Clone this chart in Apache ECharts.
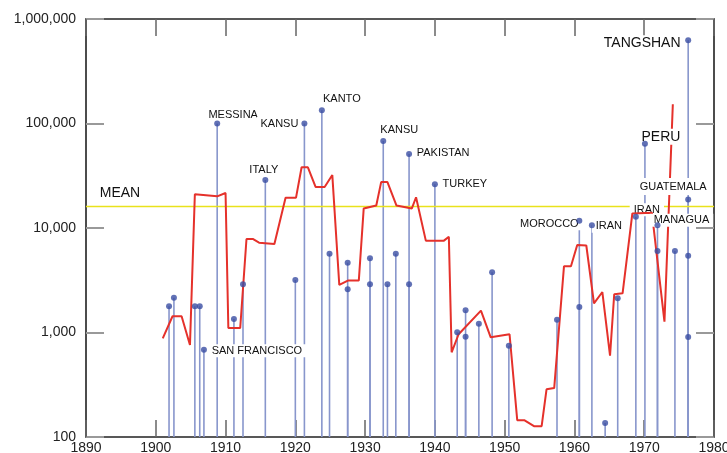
<!DOCTYPE html>
<html><head><meta charset="utf-8">
<script src="https://cdn.jsdelivr.net/npm/echarts@6/dist/echarts.min.js"></script>
<style>html,body{margin:0;padding:0;background:#fff}#c{width:727px;height:453px}</style>
</head><body><div id="c"></div>
<script>
// ---- data ----
const eventYears = [1901.9, 1902.6, 1905.6, 1906.3, 1906.9, 1908.8, 1911.2, 1912.5, 1915.7, 1920.0,
  1921.3, 1923.8, 1924.9, 1927.5, 1927.5, 1930.7, 1930.7, 1932.6, 1933.2, 1934.4,
  1936.3, 1936.3, 1940.0, 1943.2, 1944.4, 1944.4, 1946.3, 1948.2, 1950.6, 1957.5,
  1960.7, 1960.7, 1962.5, 1964.4, 1966.2, 1968.8, 1970.1, 1971.9, 1971.9, 1974.4,
  1976.3, 1976.3, 1976.3, 1976.3];
const eventDeaths = [1780, 2150, 1780, 1780, 684, 100000, 1345, 2890, 28800, 3180,
  100000, 134000, 5680, 4660, 2600, 5130, 2890, 68000, 2890, 5680,
  51000, 2890, 26200, 1005, 1630, 912, 1213, 3770, 748, 1328,
  11750, 1755, 10600, 136, 2125, 12800, 64100, 10600, 6030, 6030,
  625000, 18700, 5430, 906];
const eventNames = ['', '', '', '', 'SAN FRANCISCO', 'MESSINA', '', '', 'ITALY', '',
  'KANSU', 'KANTO', '', '', '', '', '', 'KANSU', '', '',
  'PAKISTAN', '', 'TURKEY', '', '', '', '', '', '', '',
  'MOROCCO', '', 'IRAN', '', '', 'IRAN', 'PERU', 'MANAGUA', '', '',
  'TANGSHAN', 'GUATEMALA', '', ''];
const averageYears = [1901.0, 1902.4, 1903.7, 1904.9, 1905.6, 1908.8, 1910.0, 1910.4, 1912.1, 1913.0,
  1913.9, 1914.8, 1917.0, 1918.6, 1920.1, 1920.9, 1921.8, 1922.9, 1924.2, 1925.3,
  1926.3, 1927.6, 1929.1, 1929.8, 1931.6, 1932.3, 1933.2, 1934.5, 1936.7, 1937.3,
  1938.7, 1941.3, 1942.0, 1942.4, 1943.4, 1946.6, 1948.0, 1950.7, 1951.8, 1952.8,
  1954.2, 1955.3, 1956.0, 1957.1, 1958.5, 1959.5, 1960.4, 1961.7, 1962.8, 1964.0,
  1965.1, 1965.7, 1966.9, 1968.3, 1971.1, 1972.9, 1974.1];
const averageDeaths = [880, 1430, 1430, 759, 21000, 20100, 21600, 1105, 1105, 7850,
  7850, 7240, 7030, 19500, 19500, 38100, 38100, 24700, 24700, 32100,
  2850, 3150, 3150, 15400, 16400, 27500, 27500, 16400, 15400, 19700,
  7570, 7570, 8260, 646, 962, 1620, 900, 962, 145, 145,
  127, 127, 286, 294, 4300, 4300, 6870, 6800, 1900, 2440,
  600, 2320, 2370, 13800, 14000, 1270, 153000];
const meanDeaths = 16100;
const meanLabel = 'MEAN';
const yearTicks = [1890, 1900, 1910, 1920, 1930, 1940, 1950, 1960, 1970, 1980];
const deathTicks = [100, 1000, 10000, 100000, 1000000];

// ---- layout / styling ----
const FONT = '"Liberation Sans", Arial, Helvetica, sans-serif';
const labelLayout = {
  'MESSINA|1908.8': {dx: 16, dy: -9},
  'KANSU|1921.3': {dx: -25, dy: 0},
  'KANTO|1923.8': {dx: 20, dy: -11},
  'ITALY|1915.7': {dx: -1.5, dy: -10},
  'SAN FRANCISCO|1906.9': {dx: 53, dy: 1},
  'KANSU|1932.6': {dx: 16, dy: -11},
  'PAKISTAN|1936.3': {dx: 34, dy: -1},
  'TURKEY|1940': {dx: 30, dy: 0},
  'MOROCCO|1960.7': {dx: -30, dy: 3},
  'IRAN|1962.5': {dx: 17, dy: 1},
  'IRAN|1968.8': {dx: 11, dy: -7, under: true},
  'PERU|1970.1': {dx: 16, dy: -7, size: 14},
  'TANGSHAN|1976.3': {dx: -46, dy: 3, size: 14},
  'GUATEMALA|1976.3': {dx: -15, dy: -13, padV: 3},
  'MANAGUA|1971.9': {dx: 24, dy: -5},
  'MEAN|mean': {dx: 34, dy: -13, size: 14, noBg: true}
};
function labelRow(name, year, value, key) {
  return [year, value, name, key];
}
const labelRows = [];
eventNames.forEach((n, i) => { if (n) labelRows.push(labelRow(n, eventYears[i], eventDeaths[i], n + '|' + eventYears[i])); });
labelRows.push(labelRow(meanLabel, yearTicks[0], meanDeaths, 'MEAN|mean'));
const rowsUnder = labelRows.filter(r => (labelLayout[r[3]] || {}).under);
const rowsOver = labelRows.filter(r => !(labelLayout[r[3]] || {}).under);

function renderLabel(params, api) {
  const rows = params.seriesIndex === 2 ? rowsUnder : rowsOver;
  const r = rows[params.dataIndex];
  const L = labelLayout[r[3]] || {dx: 0, dy: -10};
  const p = api.coord([r[0], r[1]]);
  const size = L.size || 11;
  const st = {
    text: r[2], fill: '#111', font: size + 'px ' + FONT,
    align: 'center', verticalAlign: 'middle'
  };
  if (!L.noBg) {
    st.backgroundColor = '#fff';
    st.padding = [L.padV != null ? L.padV : 1, 4];
  }
  return {type: 'text', x: p[0] + L.dx, y: p[1] + L.dy, style: st};
}

const fmtY = v => String(Math.round(v)).replace(/\B(?=(\d{3})+(?!\d))/g, ',');
const xBase = {
  type: 'value', min: yearTicks[0], max: yearTicks[yearTicks.length - 1], interval: yearTicks[1] - yearTicks[0],
  axisLine: {show: true, onZero: false, lineStyle: {color: '#222', width: 1.5}},
  axisTick: {show: true, inside: true, length: 17, lineStyle: {color: '#666', width: 1.5}},
  splitLine: {show: false}
};
const yBase = {
  type: 'log', logBase: 10, min: deathTicks[0], max: deathTicks[deathTicks.length - 1],
  axisLine: {show: true, onZero: false, lineStyle: {color: '#111', width: 1.5}},
  axisTick: {show: true, inside: true, length: 18, lineStyle: {color: '#999', width: 2}},
  splitLine: {show: false}, minorTick: {show: false}
};

const chart = echarts.init(document.getElementById('c'), null, {renderer: 'canvas'});
chart.setOption({
  animation: false,
  backgroundColor: '#fff',
  grid: {left: 86, right: 13, top: 19, bottom: 16, containLabel: false, outerBoundsMode: 'none'},
  xAxis: [
    Object.assign({}, xBase, {position: 'bottom',
      axisLabel: {show: true, fontSize: 14, color: '#222', fontFamily: FONT, margin: 4, formatter: v => String(v)}}),
    Object.assign({}, xBase, {position: 'top', axisLabel: {show: false}})
  ],
  yAxis: [
    Object.assign({}, yBase, {position: 'left',
      axisLabel: {show: true, fontSize: 14, color: '#222', fontFamily: FONT, margin: 10, formatter: fmtY}}),
    Object.assign({}, yBase, {position: 'right', axisLabel: {show: false}})
  ],
  series: [
    {
      type: 'custom', z: 2, silent: true,
      data: eventYears.map((y, i) => [y, eventDeaths[i]]),
      renderItem: (params, api) => {
        const p0 = api.coord([api.value(0), deathTicks[0]]);
        const p1 = api.coord([api.value(0), api.value(1)]);
        return {type: 'line', shape: {x1: p0[0], y1: p0[1], x2: p1[0], y2: p1[1]},
          style: {stroke: '#8896cc', lineWidth: 1.6}};
      }
    },
    {
      type: 'line', z: 3, silent: true, symbol: 'none',
      data: [[yearTicks[0], meanDeaths], [yearTicks[yearTicks.length - 1], meanDeaths]],
      lineStyle: {color: '#e9e21c', width: 1.5}
    },
    {
      type: 'custom', z: 4, silent: true,
      data: rowsUnder.map(r => [r[0], r[1]]),
      renderItem: renderLabel
    },
    {
      type: 'line', z: 5, silent: true, symbol: 'none',
      data: averageYears.map((y, i) => [y, averageDeaths[i]]),
      lineStyle: {color: '#e5312b', width: 2}
    },
    {
      type: 'custom', z: 6, silent: true,
      data: rowsOver.map(r => [r[0], r[1]]),
      renderItem: renderLabel
    },
    {
      type: 'scatter', z: 8, silent: true, symbol: 'circle', symbolSize: 6,
      itemStyle: {color: '#3a4ea2'},
      data: eventYears.map((y, i) => [y, eventDeaths[i]])
    }
  ]
});
</script></body></html>
